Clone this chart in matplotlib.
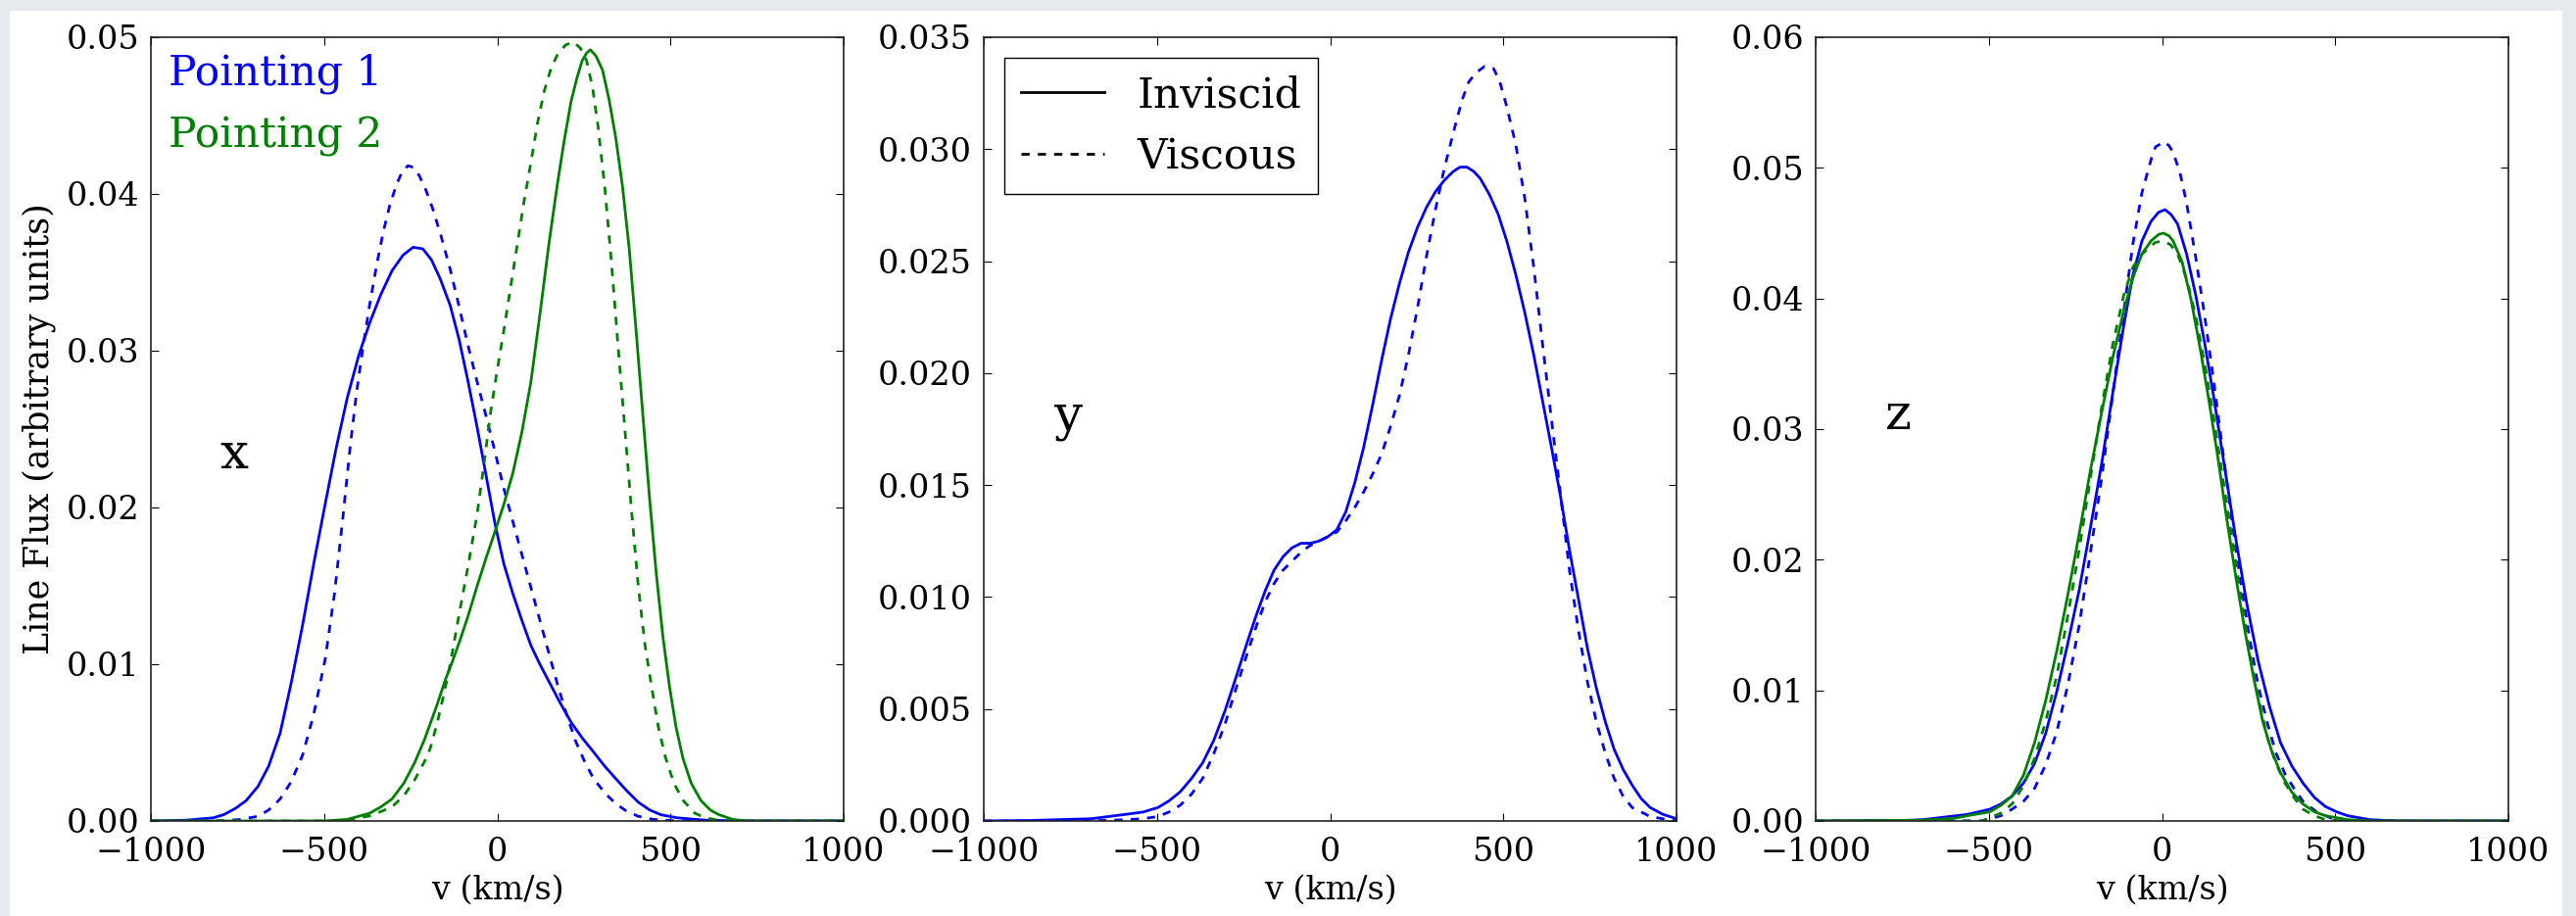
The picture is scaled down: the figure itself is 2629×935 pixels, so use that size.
"""
Line profiles of the flux along three lines of sight (x, y, z),
inviscid (solid) vs viscous (dashed), for two pointings.
"""
import matplotlib
matplotlib.use("Agg")
import matplotlib.pyplot as plt
from matplotlib.lines import Line2D
from matplotlib.patches import Rectangle


# ---- panel x ---------------------------------------------------------------
X_P1_INV_V = [-1000, -900, -820, -790, -756, -725, -691, -660, -627, -595, -562, -530,
              -497, -465, -433, -400, -368, -336, -304, -272, -243, -215, -190, -165,
              -136, -110, -84, -58, -32, -6, 19, 45, 71, 97, 123, 149, 180, 213, 245,
              278, 310, 342, 375, 407, 440, 472, 520, 600, 700, 1000]
X_P1_INV_F = [0, 0.00005, 0.0002, 0.0004, 0.0008, 0.0013, 0.0022, 0.0035, 0.0056, 0.0088,
              0.0125, 0.0164, 0.0202, 0.0238, 0.0270, 0.0297, 0.0318, 0.0336, 0.0351,
              0.0361, 0.0366, 0.0365, 0.0358, 0.0346, 0.0329, 0.0307, 0.0280, 0.0251,
              0.0220, 0.0189, 0.0164, 0.0145, 0.0128, 0.0112, 0.0100, 0.0089, 0.0076,
              0.0063, 0.0053, 0.0044, 0.0035, 0.0027, 0.0019, 0.0012, 0.0007, 0.0004,
              0.0002, 0.00005, 0, 0]

X_P1_VIS_V = [-1000, -800, -740, -691, -660, -627, -595, -562, -530, -497, -470, -446, -425,
              -407, -388, -368, -348, -329, -310, -291, -275, -258, -242, -226, -207, -187,
              -162, -136, -110, -84, -58, -32, -6, 19, 45, 71, 97, 123, 149, 174, 200, 226,
              252, 278, 310, 342, 375, 407, 450, 520, 1000]
X_P1_VIS_F = [0, 0, 0.0001, 0.0003, 0.0007, 0.0014, 0.0025, 0.0042, 0.0068, 0.0103, 0.0145,
              0.0193, 0.0238, 0.0272, 0.0302, 0.0330, 0.0355, 0.0376, 0.0393, 0.0406,
              0.0414, 0.0418, 0.0417, 0.0412, 0.0403, 0.0391, 0.0373, 0.0352, 0.0328,
              0.0303, 0.0280, 0.0258, 0.0235, 0.0212, 0.0191, 0.0170, 0.0149, 0.0128,
              0.0107, 0.0087, 0.0068, 0.0051, 0.0038, 0.0027, 0.0018, 0.0011, 0.0006,
              0.0003, 0.0001, 0, 0]

X_P2_INV_V = [-1000, -500, -433, -400, -368, -336, -304, -270, -239, -210, -174, -150, -129,
              -105, -84, -58, -32, -6, 19, 45, 71, 97, 123, 149, 174, 194, 213, 230, 245,
              258, 269, 285, 304, 323, 342, 362, 381, 400, 420, 440, 459, 478, 497, 516,
              536, 560, 588, 615, 640, 680, 720, 1000]
X_P2_INV_F = [0, 0, 0.0001, 0.0003, 0.0005, 0.0009, 0.0014, 0.0024, 0.0037, 0.0052, 0.0074,
              0.0090, 0.0102, 0.0117, 0.0131, 0.0150, 0.0168, 0.0185, 0.0202, 0.0222,
              0.0248, 0.0280, 0.0323, 0.0368, 0.0407, 0.0435, 0.0459, 0.0474, 0.0485,
              0.0490, 0.0492, 0.0488, 0.0479, 0.0460, 0.0436, 0.0404, 0.0365, 0.0315,
              0.0260, 0.0205, 0.0158, 0.0118, 0.0086, 0.0060, 0.0040, 0.0024, 0.0013,
              0.0007, 0.0004, 0.0001, 0, 0]

X_P2_VIS_V = [-1000, -450, -400, -372, -336, -304, -270, -239, -210, -194, -174, -155, -136,
              -110, -84, -58, -40, -19, 0, 19, 38, 58, 77, 97, 116, 136, 155, 174, 197,
              220, 240, 258, 275, 291, 310, 329, 348, 368, 388, 407, 426, 446, 465, 485,
              510, 537, 570, 601, 650, 1000]
X_P2_VIS_F = [0, 0, 0.0002, 0.0003, 0.0006, 0.0009, 0.0016, 0.0026, 0.0038, 0.0046, 0.0062,
              0.0080, 0.0100, 0.0132, 0.0163, 0.0196, 0.0225, 0.0261, 0.0288, 0.0313,
              0.0340, 0.0368, 0.0395, 0.0420, 0.0445, 0.0466, 0.0480, 0.0489, 0.0495,
              0.0497, 0.0493, 0.0485, 0.0468, 0.0443, 0.0405, 0.0358, 0.0305, 0.0251,
              0.0197, 0.0150, 0.0113, 0.0085, 0.0060, 0.0041, 0.0024, 0.0013, 0.0005,
              0.0002, 0, 0]

# ---- panel y ---------------------------------------------------------------
Y_P1_INV_V = [-1000, -870, -690, -588, -540, -497, -465, -433, -400, -368, -336, -304, -272,
              -239, -213, -187, -162, -136, -110, -84, -58, -32, -6, 19, 45, 71, 97, 123,
              149, 174, 200, 226, 252, 278, 304, 329, 355, 375, 395, 415, 433, 459, 485,
              510, 536, 562, 588, 614, 640, 665, 691, 717, 743, 769, 795, 820, 846, 872,
              898, 924, 960, 1000]
Y_P1_INV_F = [0, 0.00002, 0.0001, 0.0003, 0.0004, 0.0006, 0.0009, 0.0013, 0.0019, 0.0026,
              0.0036, 0.0049, 0.0064, 0.0080, 0.0092, 0.0103, 0.0112, 0.0118, 0.0122,
              0.0124, 0.0124, 0.0125, 0.0127, 0.0130, 0.0138, 0.0151, 0.0167, 0.0186,
              0.0206, 0.0224, 0.0240, 0.0254, 0.0265, 0.0274, 0.0281, 0.0286, 0.0290,
              0.0292, 0.0292, 0.0290, 0.0287, 0.0280, 0.0271, 0.0259, 0.0244, 0.0227,
              0.0208, 0.0187, 0.0166, 0.0145, 0.0121, 0.0099, 0.0077, 0.0059, 0.0044,
              0.0032, 0.0023, 0.0016, 0.0010, 0.0006, 0.0003, 0.0001]

Y_P1_VIS_V = [-1000, -700, -600, -540, -497, -465, -433, -400, -368, -336, -304, -272, -239,
              -213, -187, -162, -136, -110, -84, -58, -32, -6, 19, 45, 71, 97, 123, 149,
              174, 200, 226, 252, 278, 304, 329, 355, 381, 400, 420, 446, 472, 490, 510,
              536, 562, 588, 614, 640, 665, 691, 717, 743, 769, 795, 820, 846, 872, 924,
              960, 1000]
Y_P1_VIS_F = [0, 0, 0.00005, 0.0001, 0.0002, 0.0004, 0.0007, 0.0012, 0.0019, 0.0030, 0.0043,
              0.0059, 0.0075, 0.0087, 0.0098, 0.0106, 0.0112, 0.0116, 0.0120, 0.0123,
              0.0125, 0.0127, 0.0129, 0.0134, 0.0140, 0.0147, 0.0155, 0.0164, 0.0176,
              0.0190, 0.0208, 0.0229, 0.0252, 0.0273, 0.0291, 0.0307, 0.0322, 0.0330,
              0.0334, 0.0337, 0.0336, 0.0330, 0.0319, 0.0302, 0.0278, 0.0247, 0.0212,
              0.0178, 0.0146, 0.0112, 0.0085, 0.0062, 0.0044, 0.0030, 0.0019, 0.0011,
              0.0006, 0.0002, 0.0001, 0]

# ---- panel z ---------------------------------------------------------------
Z_P1_INV_V = [-1000, -756, -690, -627, -562, -497, -465, -433, -400, -368, -336, -304, -272,
              -239, -207, -174, -142, -110, -84, -58, -32, -10, 9, 27, 45, 71, 97, 123,
              149, 180, 213, 245, 278, 310, 342, 375, 407, 440, 472, 504, 536, 600, 680,
              1000]
Z_P1_INV_F = [0, 0.00003, 0.0001, 0.0003, 0.0005, 0.0009, 0.0013, 0.0019, 0.0029, 0.0044,
              0.0067, 0.0099, 0.0136, 0.0177, 0.0224, 0.0274, 0.0328, 0.0380, 0.0418,
              0.0444, 0.0459, 0.0466, 0.0468, 0.0464, 0.0457, 0.0434, 0.0403, 0.0366,
              0.0325, 0.0272, 0.0216, 0.0166, 0.0122, 0.0088, 0.0060, 0.0042, 0.0029,
              0.0018, 0.0011, 0.0007, 0.0004, 0.0001, 0, 0]

Z_P1_VIS_V = [-1000, -520, -465, -433, -400, -368, -336, -304, -272, -239, -207, -174, -142,
              -110, -84, -58, -32, -19, 6, 20, 32, 52, 71, 97, 123, 149, 174, 200, 226,
              252, 278, 304, 329, 355, 381, 407, 446, 490, 536, 1000]
Z_P1_VIS_F = [0, 0, 0.0004, 0.0009, 0.0015, 0.0025, 0.0043, 0.0068, 0.0104, 0.0150, 0.0205,
              0.0263, 0.0327, 0.0391, 0.0442, 0.0481, 0.0506, 0.0516, 0.0520, 0.0517,
              0.0512, 0.0496, 0.0473, 0.0432, 0.0387, 0.0337, 0.0286, 0.0234, 0.0185,
              0.0141, 0.0103, 0.0075, 0.0052, 0.0036, 0.0025, 0.0015, 0.0007, 0.0002, 0, 0]

Z_P2_INV_V = [-1000, -700, -600, -562, -497, -465, -433, -400, -368, -336, -304, -272, -239,
              -207, -174, -142, -110, -84, -58, -32, -10, 4, 20, 32, 58, 84, 110, 136, 162,
              187, 213, 239, 265, 291, 316, 342, 375, 407, 440, 472, 536, 601, 1000]
Z_P2_INV_F = [0, 0.00005, 0.0002, 0.0004, 0.0007, 0.0012, 0.0019, 0.0035, 0.0060, 0.0092,
              0.0130, 0.0173, 0.0220, 0.0268, 0.0313, 0.0355, 0.0391, 0.0416, 0.0434,
              0.0444, 0.0449, 0.0450, 0.0448, 0.0444, 0.0428, 0.0399, 0.0362, 0.0321,
              0.0277, 0.0231, 0.0187, 0.0146, 0.0109, 0.0076, 0.0054, 0.0037, 0.0022,
              0.0013, 0.0007, 0.0004, 0.0001, 0, 0]

Z_P2_VIS_V = [-1000, -520, -465, -433, -400, -368, -336, -304, -272, -239, -207, -174, -142,
              -110, -84, -58, -32, -19, 6, 25, 45, 71, 97, 123, 149, 174, 200, 226, 252,
              278, 304, 329, 355, 381, 407, 440, 472, 520, 1000]
Z_P2_VIS_F = [0, 0, 0.0006, 0.0013, 0.0027, 0.0048, 0.0076, 0.0111, 0.0157, 0.0208, 0.0262,
              0.0317, 0.0365, 0.0403, 0.0424, 0.0434, 0.0440, 0.0443, 0.0444, 0.0441,
              0.0434, 0.0415, 0.0387, 0.0350, 0.0309, 0.0265, 0.0220, 0.0175, 0.0130,
              0.0094, 0.0064, 0.0044, 0.0029, 0.0018, 0.0009, 0.0004, 0.0001, 0, 0]

X_TICKS = [-1000, -500, 0, 500, 1000]
Y_TICKS_X = [0.00, 0.01, 0.02, 0.03, 0.04, 0.05]
Y_TICKS_Y = [0.000, 0.005, 0.010, 0.015, 0.020, 0.025, 0.030, 0.035]
Y_TICKS_Z = [0.00, 0.01, 0.02, 0.03, 0.04, 0.05, 0.06]

BLUE = "#0000ff"
GREEN = "#008000"
LW = 2.0
DASH = (6, 6)

W, H = 2629, 935
plt.rcParams["font.family"] = "DejaVu Serif"
plt.rcParams["lines.scale_dashes"] = False


def style_axes(ax, yticks):
    ax.set_xlim(-1000, 1000)
    ax.set_ylim(yticks[0], yticks[-1])
    ax.set_xticks(X_TICKS)
    ax.set_yticks(yticks)
    ax.tick_params(direction="in", top=True, right=True, length=5.5, width=0.8,
                   labelsize=24, color="k")
    ax.tick_params(axis="x", pad=11.5)
    ax.tick_params(axis="y", pad=8.5)
    for sp in ax.spines.values():
        sp.set_linewidth(1.2)
        sp.set_color("#222222")
    ax.set_xlabel("v (km/s)", fontsize=24, labelpad=5)


def curve(ax, v, f, color, dashed=False):
    if dashed:
        ax.plot(v, f, color=color, lw=LW, linestyle="--", dashes=DASH)
    else:
        ax.plot(v, f, color=color, lw=LW)


fig = plt.figure(figsize=(W / 100, H / 100), dpi=100)
fig.patch.set_facecolor("#e6e9ed")
fig.add_artist(Rectangle((10 / W, 0), (2615 - 10) / W, (H - 11) / H,
                         transform=fig.transFigure, facecolor="white",
                         edgecolor="none", zorder=-5))

bottom = (H - 838) / H
height = 800 / H
width = 707 / W
ax1 = fig.add_axes([154 / W, bottom, width, height])
ax2 = fig.add_axes([1004 / W, bottom, width, height])
ax3 = fig.add_axes([1853 / W, bottom, width, height])

# x
curve(ax1, X_P1_INV_V, X_P1_INV_F, BLUE)
curve(ax1, X_P1_VIS_V, X_P1_VIS_F, BLUE, dashed=True)
curve(ax1, X_P2_INV_V, X_P2_INV_F, GREEN)
curve(ax1, X_P2_VIS_V, X_P2_VIS_F, GREEN, dashed=True)
style_axes(ax1, Y_TICKS_X)
ax1.set_ylabel("Line Flux (arbitrary units)", fontsize=25)
ax1.yaxis.set_label_coords(-0.137, 0.5)
ax1.text(-950, 0.047, "Pointing 1", color=BLUE, fontsize=30.5)
ax1.text(-950, 0.043, "Pointing 2", color=GREEN, fontsize=30.5)
ax1.text(-800, 0.0225, "x", fontsize=37)

# y
curve(ax2, Y_P1_INV_V, Y_P1_INV_F, BLUE)
curve(ax2, Y_P1_VIS_V, Y_P1_VIS_F, BLUE, dashed=True)
style_axes(ax2, Y_TICKS_Y)
ax2.text(-800, 0.0175, "y", fontsize=37)
handles = [Line2D([], [], color="k", lw=LW),
           Line2D([], [], color="k", lw=LW, linestyle="--", dashes=DASH)]
leg = ax2.legend(handles, ["Inviscid", "Viscous"], loc="upper left", fontsize=30.5,
                 frameon=True, fancybox=False, framealpha=1, edgecolor="k",
                 borderpad=0.4, handlelength=2.0, handletextpad=0.8,
                 labelspacing=0.5, borderaxespad=0.5)
leg.get_frame().set_linewidth(1.0)

# z
curve(ax3, Z_P1_INV_V, Z_P1_INV_F, BLUE)
curve(ax3, Z_P1_VIS_V, Z_P1_VIS_F, BLUE, dashed=True)
curve(ax3, Z_P2_INV_V, Z_P2_INV_F, GREEN)
curve(ax3, Z_P2_VIS_V, Z_P2_VIS_F, GREEN, dashed=True)
style_axes(ax3, Y_TICKS_Z)
ax3.text(-800, 0.030, "z", fontsize=37)

fig.savefig("out.png", dpi=100, facecolor=fig.get_facecolor())
